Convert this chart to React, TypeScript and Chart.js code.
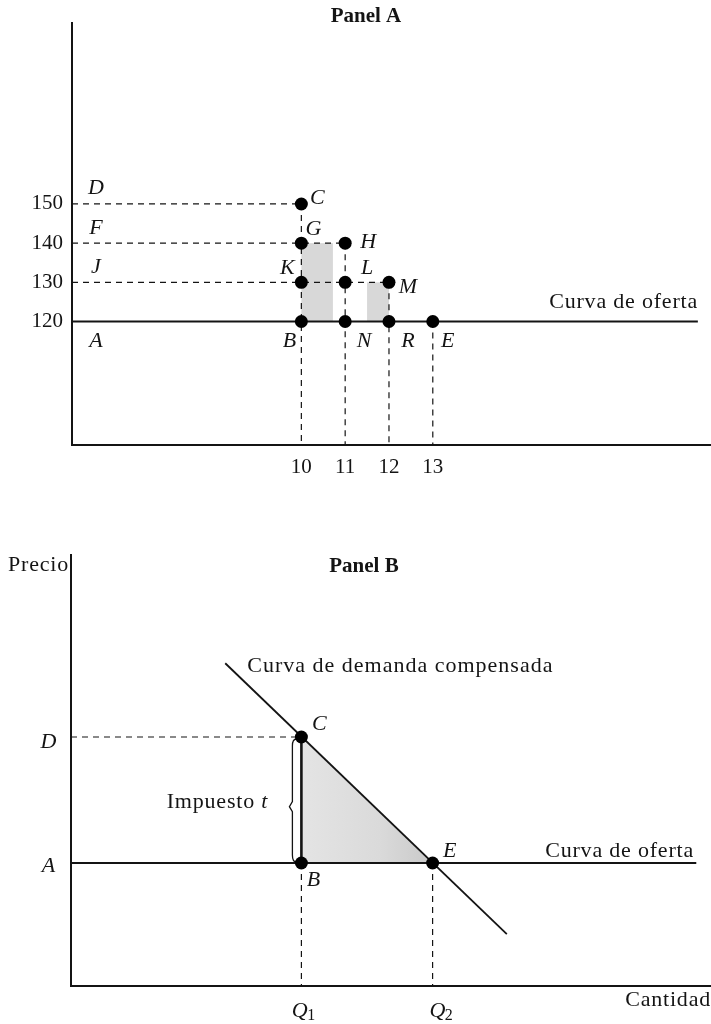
import React, { useEffect, useRef } from 'react';
import { Chart, registerables } from 'chart.js';

Chart.register(...registerables);

// ---------- Panel A data ----------
const qtyTicksA = [10, 11, 12, 13];
const priceTicksA = [120, 130, 140, 150];
const supplyPriceA = 120;
const supplyEndQtyA = 19.05;
const pointNamesA = ['C', 'G', 'H', 'K', 'L', 'M', 'B', 'N', 'R', 'E'];
const pointQtyA = [10, 10, 11, 10, 11, 12, 10, 11, 12, 13];
const pointPriceA = [150, 140, 140, 130, 130, 130, 120, 120, 120, 120];
const levelNamesA = ['D', 'F', 'J', 'A'];
const levelPricesA = [150, 140, 130, 120];
const hGuideQtyA = [10, 11, 12];
const hGuidePriceA = [150, 140, 130];
const vGuideQtyA = [10, 11, 12, 13];
const vGuideTopA = [150, 140, 130, 120];
const shadeQtyFromA = [10, 11.5];
const shadeQtyToA = [10.72, 12];
const shadePriceFromA = [120, 120];
const shadePriceToA = [140, 130];

// ---------- Panel B data ----------
const q1B = 3.6;
const q2B = 5.65;
const priceAB = 2.85; // A (supply price)
const priceDB = 5.77; // D (price with tax)
const supplyEndQtyB = 9.77;
const demandQtyB = [2.41, 6.81];
const demandPriceB = [7.48, 1.2];
const pointNamesB = ['C', 'B', 'E'];
const pointQtyB = [q1B, q1B, q2B];
const pointPriceB = [priceDB, priceAB, priceAB];

// ---------- styles ----------
const INK = '#141414';
const SERIF = "'Liberation Serif', 'Times New Roman', Times, serif";
const F_REG = `22px ${SERIF}`;
const F_IT = `italic 22px ${SERIF}`;
const F_BOLD = `bold 21px ${SERIF}`;
const SP = '0.8px';
const DASH = [6, 5];

const A_X = { min: 4.765, max: 19.35 };
const A_Y = { min: 88.47, max: 196.2 };
const B_X = { min: 0, max: 10 };
const B_Y = { min: 0, max: 10 };

function txt(ctx: CanvasRenderingContext2D, s: string, x: number, y: number, font: string, align: CanvasTextAlign = 'center', spacing = '0px') {
  ctx.save();
  ctx.font = font;
  ctx.fillStyle = INK;
  ctx.textAlign = align;
  ctx.textBaseline = 'middle';
  (ctx as any).letterSpacing = spacing;
  ctx.fillText(s, x, y);
  ctx.restore();
}

function seg(x1: number, y1: number, x2: number, y2: number) {
  return [{ x: x1, y: y1 }, { x: x2, y: y2 }];
}

function lineDs(data: any[], width: number, dash: number[] = []) {
  return {
    data,
    showLine: true,
    borderColor: INK,
    borderWidth: width,
    borderDash: dash,
    pointRadius: 0,
    fill: false,
    tension: 0,
  };
}

const pointOffsetsA: Record<string, [number, number]> = {
  C: [16, -6], G: [12, -14], H: [23, -1], K: [-14, -14], L: [22, -14],
  M: [19, 5], B: [-12, 20], N: [19, 20], R: [19, 20], E: [15, 20],
};
const levelOffsetsA: Record<string, number> = { D: -16, F: -15, J: -15, A: 20 };

const panelAPlugin = {
  id: 'panelA',
  beforeDatasetsDraw(chart: any) {
    const { ctx, scales: { x, y } } = chart;
    ctx.save();
    ctx.fillStyle = '#d8d8d8';
    for (let i = 0; i < shadeQtyFromA.length; i++) {
      const x1 = x.getPixelForValue(shadeQtyFromA[i]);
      const x2 = x.getPixelForValue(shadeQtyToA[i]);
      const y1 = y.getPixelForValue(shadePriceToA[i]);
      const y2 = y.getPixelForValue(shadePriceFromA[i]);
      ctx.fillRect(x1, y1, x2 - x1, y2 - y1);
    }
    ctx.restore();
  },
  afterDraw(chart: any) {
    const { ctx, chartArea, scales: { x, y } } = chart;
    txt(ctx, 'Panel A', 366, 17, F_BOLD);
    pointNamesA.forEach((n, i) => {
      const [dx, dy] = pointOffsetsA[n];
      txt(ctx, n, x.getPixelForValue(pointQtyA[i]) + dx, y.getPixelForValue(pointPriceA[i]) + dy, F_IT);
    });
    levelNamesA.forEach((n, i) => {
      txt(ctx, n, chartArea.left + 24, y.getPixelForValue(levelPricesA[i]) + levelOffsetsA[n], F_IT);
    });
    txt(ctx, 'Curva de oferta', chartArea.right - 13, y.getPixelForValue(supplyPriceA) - 19, F_REG, 'right', SP);
  },
};

const panelBPlugin = {
  id: 'panelB',
  beforeDatasetsDraw(chart: any) {
    const { ctx, scales: { x, y } } = chart;
    const xc = x.getPixelForValue(q1B);
    const xe = x.getPixelForValue(q2B);
    const yd = y.getPixelForValue(priceDB);
    const ya = y.getPixelForValue(priceAB);
    ctx.save();
    const g = ctx.createLinearGradient(xc, 0, xe, 0);
    g.addColorStop(0, '#e4e4e4');
    g.addColorStop(0.6, '#dadada');
    g.addColorStop(1, '#c9c9c9');
    ctx.fillStyle = g;
    ctx.beginPath();
    ctx.moveTo(xc, yd);
    ctx.lineTo(xc, ya);
    ctx.lineTo(xe, ya);
    ctx.closePath();
    ctx.fill();
    // brace beside the tax segment
    const bx = xc - 9;
    const top = yd + 2;
    const bot = ya - 1;
    const mid = top + (bot - top) * 0.55;
    ctx.strokeStyle = INK;
    ctx.lineWidth = 1.3;
    ctx.beginPath();
    ctx.moveTo(bx + 4, top);
    ctx.quadraticCurveTo(bx, top, bx, top + 7);
    ctx.lineTo(bx, mid - 5);
    ctx.lineTo(bx - 3, mid);
    ctx.lineTo(bx, mid + 5);
    ctx.lineTo(bx, bot - 7);
    ctx.quadraticCurveTo(bx, bot, bx + 4, bot);
    ctx.stroke();
    ctx.restore();
  },
  afterDraw(chart: any) {
    const { ctx, chartArea, scales: { x, y } } = chart;
    const xc = x.getPixelForValue(q1B);
    const xe = x.getPixelForValue(q2B);
    const yd = y.getPixelForValue(priceDB);
    const ya = y.getPixelForValue(priceAB);
    txt(ctx, 'Panel B', 364, chartArea.top + 12, F_BOLD);
    txt(ctx, 'Precio', 8, chartArea.top + 10.5, F_REG, 'left', SP);
    txt(ctx, 'Cantidad', chartArea.right, chartArea.bottom + 14, F_REG, 'right', SP);
    txt(ctx, 'Curva de demanda compensada', x.getPixelForValue(demandQtyB[0]) + 22, y.getPixelForValue(demandPriceB[0]) + 3, F_REG, 'left', '1px');
    txt(ctx, 'Curva de oferta', chartArea.right - 17, ya - 12, F_REG, 'right', SP);
    txt(ctx, 'C', xc + 18, yd - 13, F_IT);
    txt(ctx, 'B', xc + 12, ya + 17, F_IT);
    txt(ctx, 'E', xe + 17, ya - 12, F_IT);
    txt(ctx, 'D', chartArea.left - 22.5, yd + 5, F_IT);
    txt(ctx, 'A', chartArea.left - 22.5, ya + 3, F_IT);
    // Impuesto t
    ctx.save();
    ctx.font = F_REG;
    (ctx as any).letterSpacing = SP;
    const w1 = ctx.measureText('Impuesto ').width;
    ctx.font = F_IT;
    (ctx as any).letterSpacing = '0px';
    const w2 = ctx.measureText('t').width;
    ctx.restore();
    const right = xc - 34;
    const ty = (yd + ya) / 2 + 2;
    txt(ctx, 'Impuesto ', right - w1 - w2, ty, F_REG, 'left', SP);
    txt(ctx, 't', right - w2, ty, F_IT, 'left');
    // Q labels
    const qy = chartArea.bottom + 25;
    const qLabels: [number, string][] = [[xc - 1.6, '1'], [xe + 4.8, '2']];
    qLabels.forEach(([cx, sub]) => {
      ctx.save();
      ctx.font = F_IT;
      const qw = ctx.measureText('Q').width;
      ctx.restore();
      txt(ctx, 'Q', cx, qy, F_IT);
      txt(ctx, sub, cx + qw / 2 - 0.5, qy + 5, `16px ${SERIF}`, 'left');
    });
  },
};

function axisOpts(range: { min: number; max: number }, fit: (s: any) => void, extra: any = {}) {
  return {
    type: 'linear',
    min: range.min,
    max: range.max,
    grid: { display: false, drawTicks: false },
    border: { display: true, color: INK, width: 2 },
    afterFit: fit,
    ...extra,
  };
}

function configA(): any {
  const datasets: any[] = [];
  datasets.push({
    data: pointQtyA.map((q, i) => ({ x: q, y: pointPriceA[i] })),
    showLine: false,
    pointRadius: 6.5,
    pointBackgroundColor: '#000',
    pointBorderWidth: 0,
  });
  datasets.push(lineDs(seg(A_X.min, supplyPriceA, supplyEndQtyA, supplyPriceA), 2));
  hGuideQtyA.forEach((q, i) => datasets.push(lineDs(seg(A_X.min, hGuidePriceA[i], q, hGuidePriceA[i]), 1.2, DASH)));
  vGuideQtyA.forEach((q, i) => datasets.push(lineDs(seg(q, vGuideTopA[i], q, A_Y.min), 1.2, DASH)));
  const tickFont = { family: SERIF, size: 21 };
  return {
    type: 'scatter',
    data: { datasets },
    options: {
      animation: false,
      responsive: false,
      events: [],
      layout: { autoPadding: false, padding: { top: 23, left: 0, right: 0, bottom: 0 } },
      plugins: { legend: { display: false }, tooltip: { enabled: false }, title: { display: false } },
      scales: {
        x: axisOpts(A_X, (s: any) => { s.height = 55; }, {
          afterBuildTicks: (s: any) => { s.ticks = qtyTicksA.map((v) => ({ value: v })); },
          ticks: { font: tickFont, color: INK, padding: 10, autoSkip: false, maxRotation: 0 },
        }),
        y: axisOpts(A_Y, (s: any) => { s.width = 72; }, {
          afterBuildTicks: (s: any) => { s.ticks = priceTicksA.map((v) => ({ value: v })); },
          ticks: { font: tickFont, color: INK, padding: 9, autoSkip: false },
        }),
      },
    },
    plugins: [panelAPlugin],
  };
}

function configB(): any {
  const datasets: any[] = [];
  datasets.push({
    data: pointQtyB.map((q, i) => ({ x: q, y: pointPriceB[i] })),
    showLine: false,
    pointRadius: 6.5,
    pointBackgroundColor: '#000',
    pointBorderWidth: 0,
  });
  datasets.push(lineDs(seg(q1B, priceAB, q1B, priceDB), 2.6));
  datasets.push(lineDs(seg(demandQtyB[0], demandPriceB[0], demandQtyB[1], demandPriceB[1]), 1.8));
  datasets.push(lineDs(seg(B_X.min, priceAB, supplyEndQtyB, priceAB), 2));
  datasets.push(lineDs(seg(B_X.min, priceDB, q1B, priceDB), 1.2, DASH));
  datasets.push(lineDs(seg(q1B, priceAB, q1B, B_Y.min), 1.2, DASH));
  datasets.push(lineDs(seg(q2B, priceAB, q2B, B_Y.min), 1.2, DASH));
  return {
    type: 'scatter',
    data: { datasets },
    options: {
      animation: false,
      responsive: false,
      events: [],
      layout: { autoPadding: false, padding: { top: 44.5, left: 0, right: 0, bottom: 0 } },
      plugins: { legend: { display: false }, tooltip: { enabled: false }, title: { display: false } },
      scales: {
        x: axisOpts(B_X, (s: any) => { s.height = 38; }, { ticks: { display: false } }),
        y: axisOpts(B_Y, (s: any) => { s.width = 71; }, { ticks: { display: false } }),
      },
    },
    plugins: [panelBPlugin],
  };
}

function Panel({ make, top, height }: { make: () => any; top: number; height: number }) {
  const ref = useRef<HTMLCanvasElement>(null);
  useEffect(() => {
    const chart = new Chart(ref.current as HTMLCanvasElement, make());
    return () => chart.destroy();
  }, []);
  return (
    <canvas
      ref={ref}
      width={711}
      height={height}
      style={{ position: 'absolute', left: 0, top, width: 711, height, display: 'block' }}
    />
  );
}

export default function App() {
  return (
    <div style={{ position: 'absolute', left: 0, top: 0, width: 711, height: 1024, background: '#fff' }}>
      <Panel make={configA} top={0} height={500} />
      <Panel make={configB} top={510} height={514} />
    </div>
  );
}
